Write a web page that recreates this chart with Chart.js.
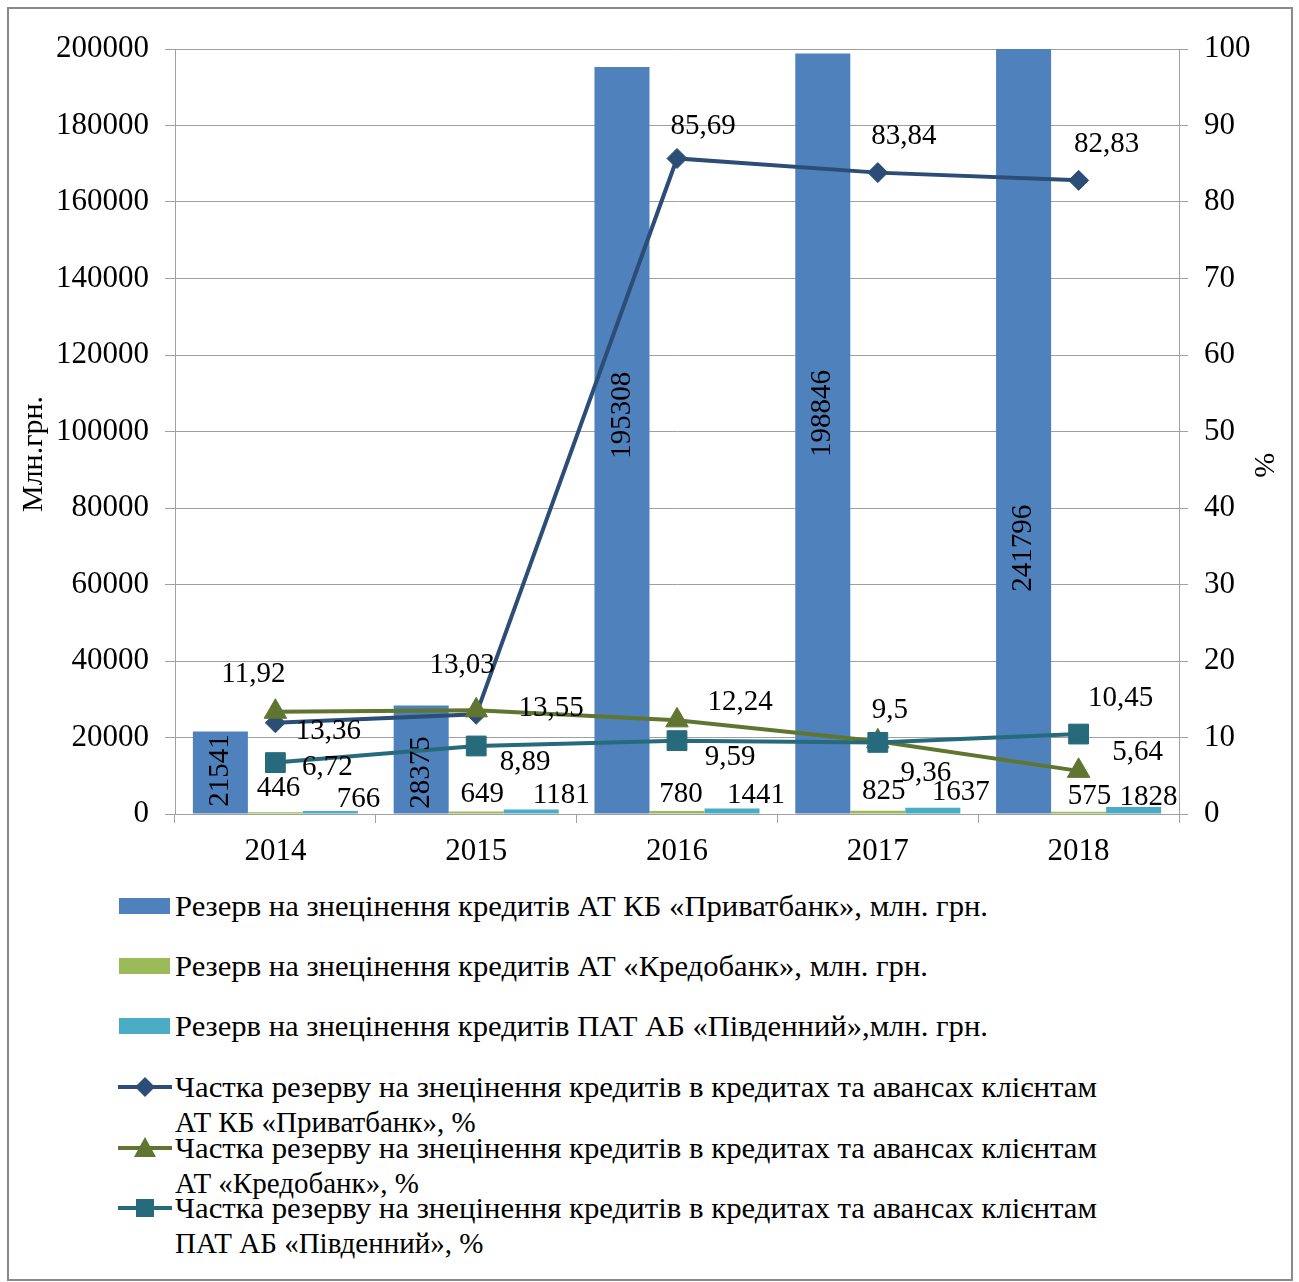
<!DOCTYPE html>
<html><head><meta charset="utf-8">
<script src="https://cdn.jsdelivr.net/npm/chart.js@4.4.1/dist/chart.umd.min.js"></script>
<style>
html,body{margin:0;padding:0;background:#fff;}
body{width:1299px;height:1282px;overflow:hidden;position:relative;font-family:'Liberation Serif','Times New Roman',serif;}
#frame{position:absolute;left:7px;top:7px;width:1286px;height:1274px;border:2px solid #8a8a8a;box-sizing:border-box;}
#wrap{position:absolute;left:0;top:0;width:1299px;height:880px;}
.txt{position:absolute;left:175px;font-size:29px;line-height:35px;color:#000;white-space:nowrap;transform-origin:0 50%;}
.sym{position:absolute;left:116px;}
</style>
</head><body>
<div id="wrap"><canvas id="c" width="1299" height="880"></canvas></div>
<div id="legend"></div>
<div id="frame"></div>
<script>
// ---- data ----
const years = ['2014', '2015', '2016', '2017', '2018'];
const privatReserve = [21541, 28375, 195308, 198846, 241796];
const kredoReserve = [446, 649, 780, 825, 575];
const pivdReserve = [766, 1181, 1441, 1637, 1828];
const privatShare = [11.92, 13.03, 85.69, 83.84, 82.83];
const kredoShare = [13.36, 13.55, 12.24, 9.5, 5.64];
const pivdShare = [6.72, 8.89, 9.59, 9.36, 10.45];

const seriesNames = [
  'Резерв на знецінення кредитів АТ КБ «Приватбанк», млн. грн.',
  'Резерв на знецінення кредитів АТ «Кредобанк», млн. грн.',
  'Резерв на знецінення кредитів ПАТ АБ «Південний»,млн. грн.',
  'Частка резерву на знецінення кредитів в кредитах та авансах клієнтам АТ КБ «Приватбанк», %',
  'Частка резерву на знецінення кредитів в кредитах та авансах клієнтам АТ «Кредобанк», %',
  'Частка резерву на знецінення кредитів в кредитах та авансах клієнтам ПАТ АБ «Південний», %'
];

// ---- styles / label placement (pixels) ----
const colors = {
  privatBar: '#4F81BD', kredoBar: '#9BBB59', pivdBar: '#4BACC6',
  privatLine: '#2C4D75', kredoLine: '#5F7530', pivdLine: '#276A7C'
};
const lineLabelOffsets = [
  [[-22,-48],[-14,-49],[26,-32],[26,-36],[28,-36]],
  [[53,20],[75,-2],[63,-18],[12,-31],[59,-18]],
  [[52,5],[49,16],[53,17],[48,31],[42,-36]]
];
const smallBarLabelOffsets = [
  [[3,-24],[6,-17],[4,-17],[6,-19],[11,-15]],
  [[28,-12],[30,-14],[24,-13],[28,-15],[15,-10]]
];
const bigBarLabelShift = [-2, 13, -25, -20, 117];

const FONT = "'Liberation Serif', 'Times New Roman', serif";
const fmt = v => String(v).replace('.', ',');

const labelPlugin = {
  id: 'valueLabels',
  afterDatasetsDraw(chart) {
    const ctx = chart.ctx;
    const area = chart.chartArea;
    ctx.save();
    ctx.fillStyle = '#000';
    ctx.font = '29px ' + FONT;
    ctx.textAlign = 'center';
    ctx.textBaseline = 'middle';
    const m0 = chart.getDatasetMeta(0);
    m0.data.forEach((el, i) => {
      const top = Math.max(el.y, area.top);
      const cy = (top + el.base) / 2 + bigBarLabelShift[i];
      ctx.save();
      ctx.translate(el.x, cy);
      ctx.rotate(-Math.PI / 2);
      ctx.fillText(String(privatReserve[i]), 0, 0);
      ctx.restore();
    });
    [[1, kredoReserve], [2, pivdReserve]].forEach(([di, vals], k) => {
      const meta = chart.getDatasetMeta(di);
      meta.data.forEach((el, i) => {
        const o = smallBarLabelOffsets[k][i];
        ctx.fillText(String(vals[i]), el.x + o[0], el.y + o[1]);
      });
    });
    [[3, privatShare], [4, kredoShare], [5, pivdShare]].forEach(([di, vals], k) => {
      const meta = chart.getDatasetMeta(di);
      meta.data.forEach((el, i) => {
        const o = lineLabelOffsets[k][i];
        ctx.fillText(fmt(vals[i]), el.x + o[0], el.y + o[1]);
      });
    });
    ctx.restore();
  }
};

const gridCol = '#a0a0a0';
const tickFont = { family: FONT, size: 31 };
const NB = '\u00A0';

new Chart(document.getElementById('c'), {
  data: {
    labels: years,
    datasets: [
      { type: 'bar', label: seriesNames[0], data: privatReserve, backgroundColor: colors.privatBar, yAxisID: 'y', order: 4, barPercentage: 1, categoryPercentage: 0.822, clip: 0 },
      { type: 'bar', label: seriesNames[1], data: kredoReserve, backgroundColor: colors.kredoBar, yAxisID: 'y', order: 4, barPercentage: 1, categoryPercentage: 0.822, clip: 0 },
      { type: 'bar', label: seriesNames[2], data: pivdReserve, backgroundColor: colors.pivdBar, yAxisID: 'y', order: 4, barPercentage: 1, categoryPercentage: 0.822, clip: 0 },
      { type: 'line', label: seriesNames[3], data: privatShare, borderColor: colors.privatLine, backgroundColor: colors.privatLine, borderWidth: 4, pointStyle: 'rectRot', pointRadius: 10, pointBorderWidth: 1, yAxisID: 'y1', order: 3, clip: false, tension: 0 },
      { type: 'line', label: seriesNames[4], data: kredoShare, borderColor: colors.kredoLine, backgroundColor: colors.kredoLine, borderWidth: 4, pointStyle: 'triangle', pointRadius: 13, pointBorderWidth: 1, yAxisID: 'y1', order: 2, clip: false, tension: 0 },
      { type: 'line', label: seriesNames[5], data: pivdShare, borderColor: colors.pivdLine, backgroundColor: colors.pivdLine, borderWidth: 4, pointStyle: 'rect', pointRadius: 14, pointBorderWidth: 1, yAxisID: 'y1', order: 1, clip: false, tension: 0 }
    ]
  },
  options: {
    responsive: false,
    animation: false,
    events: [],
    layout: { padding: { left: 14, right: 14, top: 49, bottom: 0 } },
    plugins: { legend: { display: false }, tooltip: { enabled: false } },
    scales: {
      x: {
        position: 'bottom',
        grid: { offset: true, drawOnChartArea: false, drawTicks: true, tickLength: 9, color: gridCol, tickColor: gridCol },
        border: { display: true, color: gridCol, width: 1 },
        ticks: { font: tickFont, color: '#000', padding: 10, maxRotation: 0 },
        afterFit(s) { s.height = 66; }
      },
      y: {
        position: 'left', min: 0, max: 200000,
        ticks: { stepSize: 20000, font: tickFont, color: '#000', padding: 16, callback: v => String(v) },
        grid: { color: gridCol, lineWidth: 1, tickLength: 10, tickColor: gridCol },
        border: { display: true, color: gridCol, width: 1 },
        title: { display: true, text: 'Млн.грн.' + NB + NB + NB + NB + NB + NB, font: { family: FONT, size: 30 }, color: '#000', padding: { top: 2, bottom: 0 } },
        afterFit(s) { s.width = 161; }
      },
      y1: {
        position: 'right', min: 0, max: 100,
        ticks: { stepSize: 10, font: tickFont, color: '#000', padding: 16, callback: v => String(v) },
        grid: { drawOnChartArea: false, tickLength: 9, color: gridCol, tickColor: gridCol },
        border: { display: true, color: gridCol, width: 1 },
        title: { display: true, text: NB + NB + NB + NB + NB + NB + NB + NB + NB + '%', font: { family: FONT, size: 30 }, color: '#000', padding: { top: 4, bottom: 0 } },
        afterFit(s) { s.width = 106; }
      }
    }
  },
  plugins: [labelPlugin]
});

// ---- HTML legend ----
const legendItems = [
  { kind: 'bar', color: colors.privatBar, lines: [seriesNames[0]], y: 906, w: [813] },
  { kind: 'bar', color: colors.kredoBar, lines: [seriesNames[1]], y: 966, w: [753] },
  { kind: 'bar', color: colors.pivdBar, lines: [seriesNames[2]], y: 1026, w: [813] },
  { kind: 'line', marker: 'diamond', color: colors.privatLine, lines: ['Частка резерву на знецінення кредитів в кредитах та авансах клієнтам', 'АТ КБ «Приватбанк», %'], y: 1087, w: [922, 0] },
  { kind: 'line', marker: 'triangle', color: colors.kredoLine, lines: ['Частка резерву на знецінення кредитів в кредитах та авансах клієнтам', 'АТ «Кредобанк», %'], y: 1148, w: [922, 0] },
  { kind: 'line', marker: 'square', color: colors.pivdLine, lines: ['Частка резерву на знецінення кредитів в кредитах та авансах клієнтам', 'ПАТ АБ «Південний», %'], y: 1208, w: [922, 0] }
];
const lg = document.getElementById('legend');
legendItems.forEach(it => {
  let svg;
  if (it.kind === 'bar') {
    svg = `<svg class="sym" style="top:${it.y - 9}px" width="56" height="18"><rect x="3" y="1" width="51" height="16" fill="${it.color}"/></svg>`;
  } else {
    let mk = '';
    const cx = 29, cy = 12;
    if (it.marker === 'diamond') mk = `<polygon points="${cx-10},${cy} ${cx},${cy-10} ${cx+10},${cy} ${cx},${cy+10}" fill="${it.color}"/>`;
    if (it.marker === 'triangle') mk = `<polygon points="${cx-11},${cy+9} ${cx},${cy-11} ${cx+11},${cy+9}" fill="${it.color}"/>`;
    if (it.marker === 'square') mk = `<rect x="${cx-9}" y="${cy-9}" width="18" height="18" fill="${it.color}"/>`;
    svg = `<svg class="sym" style="top:${it.y - 12}px" width="58" height="24"><line x1="2" y1="${cy}" x2="56" y2="${cy}" stroke="${it.color}" stroke-width="4"/>${mk}</svg>`;
  }
  lg.insertAdjacentHTML('beforeend', svg);
  it.lines.forEach((t, j) => {
    const d = document.createElement('div');
    d.className = 'txt';
    d.textContent = t;
    d.style.top = (it.y - 17.5 + j * 35) + 'px';
    lg.appendChild(d);
    if (it.w[j]) {
      const wNow = d.getBoundingClientRect().width;
      if (wNow > 0) d.style.transform = `scaleX(${(it.w[j] / wNow).toFixed(4)})`;
    }
  });
});
</script>
</body></html>
